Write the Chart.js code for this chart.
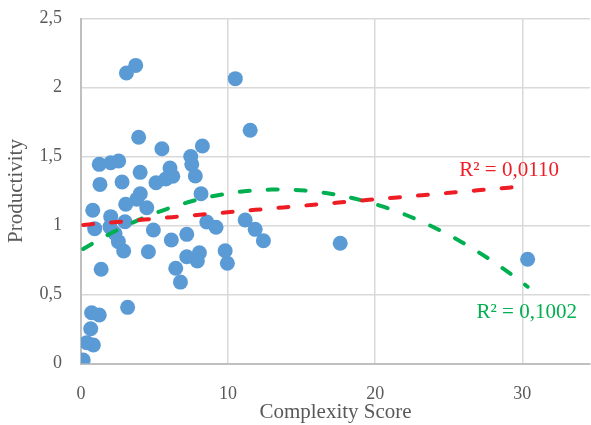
<!DOCTYPE html>
<html>
<head>
<meta charset="utf-8">
<script src="https://cdn.jsdelivr.net/npm/chart.js@4"></script>
<style>
  html, body { margin: 0; padding: 0; background: #fff; }
  #wrap { width: 591px; height: 425px; }
</style>
</head>
<body>
<div id="wrap"><canvas id="chart"></canvas></div>
<script>
// Complexity score (x) and productivity (y) for each project
var complexity = [3.72, 3.09, 10.49, 11.5, 3.92, 5.5, 8.25, 7.46, 7.53, 7.77,
    1.24, 2.02, 2.56, 4.02, 6.05, 6.24, 5.76, 5.1, 1.29, 2.79,
    4.03, 3.79, 8.16, 3.04, 4.47, 0.8, 2.02, 0.93, 1.97, 2.99,
    2.31, 2.54, 2.9, 4.92, 6.14, 7.19, 4.58, 8.55, 9.18, 7.19,
    8.05, 7.91, 6.44, 6.76, 9.8, 9.95, 11.16, 11.84, 12.4, 17.62,
    1.37, 3.17, 0.72, 1.24, 0.66, 0.39, 0.84, 0.15, 30.36];
var productivity = [2.16, 2.105, 2.064, 1.69, 1.64, 1.556, 1.576, 1.50, 1.443, 1.359,
    1.443, 1.455, 1.467, 1.385, 1.417, 1.357, 1.337, 1.31, 1.298, 1.315,
    1.23, 1.19, 1.23, 1.154, 1.129, 1.11, 1.064, 0.977, 0.99, 1.027,
    0.943, 0.883, 0.815, 0.967, 0.895, 0.936, 0.81, 1.025, 0.987, 0.774,
    0.803, 0.743, 0.69, 0.59, 0.817, 0.726, 1.04, 0.972, 0.89, 0.871,
    0.683, 0.407, 0.368, 0.351, 0.252, 0.151, 0.134, 0.025, 0.755];
var xTicks = [0, 10, 20, 30];
var linearLabel = "R² = 0,0110";
var polyLabel = "R² = 0,1002";

var textColor = "#595959";
var serif = "'Liberation Serif', 'Times New Roman', serif";

var points = complexity.map(function (x, i) { return { x: x, y: productivity[i] }; });

// least squares fit of given degree, like Excel's trendline
function polyFit(xs, ys, degree) {
    var n = degree + 1;
    var m = [];
    for (var r = 0; r < n; r++) {
        m.push([]);
        for (var c = 0; c <= n; c++) m[r].push(0);
    }
    for (var i = 0; i < xs.length; i++) {
        for (var r = 0; r < n; r++) {
            for (var c = 0; c < n; c++) m[r][c] += Math.pow(xs[i], r + c);
            m[r][n] += ys[i] * Math.pow(xs[i], r);
        }
    }
    for (var k = 0; k < n; k++) {
        var p = k;
        for (var r = k + 1; r < n; r++) if (Math.abs(m[r][k]) > Math.abs(m[p][k])) p = r;
        var tmp = m[k]; m[k] = m[p]; m[p] = tmp;
        for (var r = 0; r < n; r++) {
            if (r === k) continue;
            var f = m[r][k] / m[k][k];
            for (var c = k; c <= n; c++) m[r][c] -= f * m[k][c];
        }
    }
    return m.map(function (row, k) { return row[n] / row[k]; });
}

function fitLine(coef) {
    var lo = Math.min.apply(null, complexity), hi = Math.max.apply(null, complexity);
    var out = [];
    for (var s = 0; s <= 80; s++) {
        var x = lo + (hi - lo) * s / 80;
        var y = 0;
        coef.forEach(function (c, k) { y += c * Math.pow(x, k); });
        out.push({ x: x, y: y });
    }
    return out;
}

var linCoef = polyFit(complexity, productivity, 1);
var quadCoef = polyFit(complexity, productivity, 2);

// R² labels placed next to the end of each trend line
var trendLabels = {
    id: "trendLabels",
    afterDatasetsDraw: function (chart) {
        var ctx = chart.ctx, xs = chart.scales.x, ys = chart.scales.y;
        ctx.save();
        ctx.font = "21px " + serif;
        ctx.textAlign = "center";
        ctx.textBaseline = "middle";
        ctx.fillStyle = "#ee1c25";
        ctx.fillText(linearLabel, xs.getPixelForValue(29.1), ys.getPixelForValue(1.40));
        ctx.fillStyle = "#00b050";
        ctx.fillText(polyLabel, xs.getPixelForValue(30.3), ys.getPixelForValue(0.373));
        ctx.restore();
    }
};

new Chart(document.getElementById("chart").getContext("2d"), {
    type: "scatter",
    data: {
        datasets: [{
            label: "Linear",
            data: fitLine(linCoef),
            showLine: true,
            borderColor: "#ee1c25",
            borderWidth: 4,
            borderDash: [10, 18],
            borderCapStyle: "round",
            pointRadius: 0,
            order: 1
        }, {
            label: "Poly",
            data: fitLine(quadCoef),
            showLine: true,
            borderColor: "#00b050",
            borderWidth: 4,
            borderDash: [10, 18],
            borderCapStyle: "round",
            pointRadius: 0,
            order: 2
        }, {
            label: "Productivity",
            data: points,
            backgroundColor: "#5b9bd5",
            borderWidth: 0,
            pointRadius: 7.5,
            order: 3
        }]
    },
    options: {
        responsive: true,
        maintainAspectRatio: false,
        animation: false,
        layout: { autoPadding: false, padding: { top: 18.5, right: 1, left: 0, bottom: 0 } },
        plugins: {
            legend: { display: false },
            tooltip: { enabled: false }
        },
        scales: {
            x: {
                type: "linear",
                min: 0,
                max: 34.6,
                afterBuildTicks: function (scale) {
                    scale.ticks = xTicks.map(function (v) { return { value: v }; });
                },
                afterFit: function (scale) {
                    scale.height = 61.5;
                    scale.paddingLeft = 0;
                    scale.paddingRight = 0;
                },
                grid: { color: "#d9d9d9", lineWidth: 1.5, drawTicks: false },
                border: { color: "#bfbfbf", width: 2 },
                ticks: {
                    padding: 20,
                    color: textColor,
                    font: { family: serif, size: 18, lineHeight: 1.2 }
                },
                title: {
                    display: true,
                    text: "Complexity Score",
                    color: textColor,
                    padding: { top: 0, bottom: 0 },
                    font: { family: serif, size: 21, lineHeight: 1.2 }
                }
            },
            y: {
                min: 0,
                max: 2.5,
                afterFit: function (scale) {
                    scale.width = 81;
                    scale.paddingTop = 0;
                    scale.paddingBottom = 0;
                },
                grid: { color: "#d9d9d9", lineWidth: 1.5, drawTicks: false },
                border: { color: "#bfbfbf", width: 2 },
                ticks: {
                    stepSize: 0.5,
                    padding: 19,
                    color: textColor,
                    font: { family: serif, size: 18 },
                    callback: function (v) { return String(v).replace(".", ","); }
                },
                title: {
                    display: true,
                    text: "Productivity",
                    color: textColor,
                    padding: { top: 3.5, bottom: 0 },
                    font: { family: serif, size: 21, lineHeight: 1.2 }
                }
            }
        }
    },
    plugins: [trendLabels]
});
</script>
</body>
</html>
